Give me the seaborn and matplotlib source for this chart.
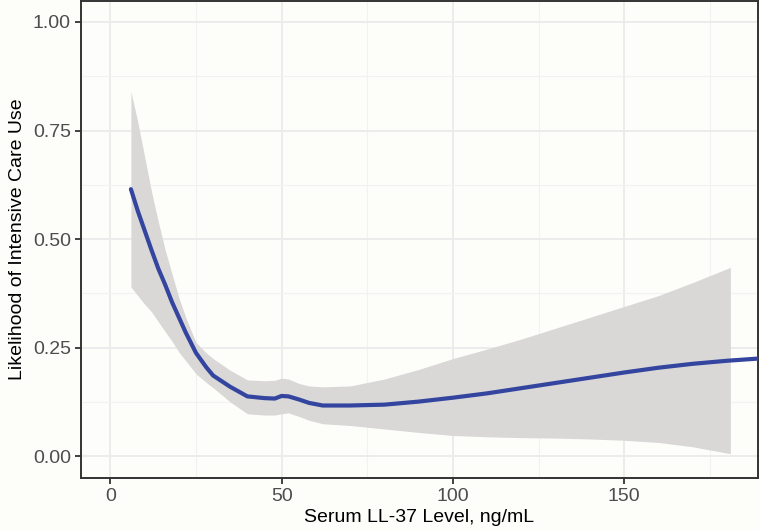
import numpy as np
import pandas as pd
import seaborn as sns
import matplotlib.pyplot as plt

# fitted curve
line_x = [6, 8, 10, 12, 14, 16, 18, 20, 22, 25, 28, 30, 35, 40, 45, 48, 50, 52,
          55, 58, 62, 70, 80, 90, 100, 110, 120, 130, 140, 150, 160, 170, 180, 189]
line_y = [0.615, 0.565, 0.52, 0.475, 0.432, 0.395, 0.355, 0.32, 0.285, 0.238, 0.205,
          0.186, 0.16, 0.138, 0.134, 0.133, 0.139, 0.138, 0.131, 0.123, 0.117, 0.117,
          0.119, 0.126, 0.135, 0.145, 0.157, 0.169, 0.181, 0.193, 0.204, 0.213, 0.22, 0.225]

# confidence band
band_x = [6, 8, 10, 12, 14, 16, 18, 20, 22, 25, 28, 30, 35, 40, 45, 48, 50, 52,
          55, 58, 62, 70, 80, 90, 100, 110, 120, 130, 140, 150, 160, 170, 181]
band_hi = [0.84, 0.77, 0.69, 0.61, 0.54, 0.475, 0.42, 0.365, 0.32, 0.262, 0.238, 0.225,
           0.198, 0.176, 0.174, 0.175, 0.18, 0.178, 0.168, 0.162, 0.16, 0.162, 0.178,
           0.2, 0.225, 0.247, 0.27, 0.295, 0.32, 0.345, 0.37, 0.40, 0.435]
band_lo = [0.39, 0.37, 0.35, 0.333, 0.31, 0.287, 0.265, 0.24, 0.22, 0.19, 0.17, 0.158,
           0.125, 0.098, 0.095, 0.095, 0.098, 0.1, 0.092, 0.083, 0.075, 0.071, 0.063,
           0.055, 0.048, 0.045, 0.043, 0.042, 0.04, 0.037, 0.032, 0.022, 0.006]

df = pd.DataFrame({"x": line_x, "y": line_y})

sns.set_theme(style="white")
plt.rcParams["font.family"] = ["Liberation Sans", "DejaVu Sans"]

bg = "#FDFDFA"
fig = plt.figure(figsize=(7.6, 5.3), dpi=100, facecolor=bg)
ax = fig.add_axes([0.106, 0.098, 0.892, 0.9])
ax.set_facecolor(bg)

ax.fill_between(band_x, band_lo, band_hi, color="#D9D8D7", lw=0, zorder=2)
sns.lineplot(data=df, x="x", y="y", color="#3445A0", lw=3, ax=ax, zorder=3)

ax.set_xlim(-8.7, 189.2)
ax.set_ylim(-0.05, 1.048)
ax.set_xticks([0, 50, 100, 150])
ax.set_yticks([0, 0.25, 0.5, 0.75, 1.0])
ax.set_yticklabels(["0.00", "0.25", "0.50", "0.75", "1.00"])
ax.set_xticks([25, 75, 125, 175], minor=True)
ax.set_yticks([0.125, 0.375, 0.625, 0.875], minor=True)

ax.grid(True, which="major", color="#EBEBEB", lw=1.3, zorder=0)
ax.grid(True, which="minor", color="#F2F2F2", lw=0.8, zorder=0)
ax.set_axisbelow(True)

for s in ax.spines.values():
    s.set_color("#333333")
    s.set_linewidth(1.4)

ax.tick_params(which="major", direction="out", length=4, width=1.3, color="#333333",
               labelsize=14, labelcolor="#4D4D4D", bottom=True, left=True, pad=3)
ax.tick_params(which="minor", length=0)

ax.set_xlabel("Serum LL-37 Level, ng/mL", fontsize=14, color="black", labelpad=3)
ax.set_ylabel("Likelihood of Intensive Care Use", fontsize=14, color="black", labelpad=5)

fig.savefig("out.png", dpi=100, facecolor=bg)
